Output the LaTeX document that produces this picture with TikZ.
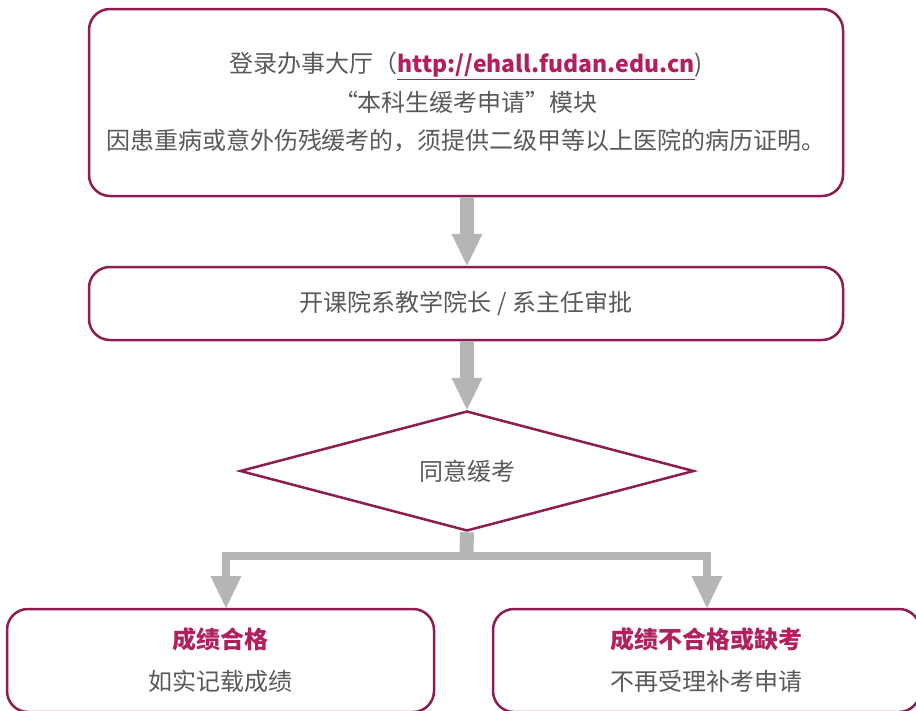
\documentclass[tikz,border=0pt]{standalone}
\usepackage{fontspec}
\setmainfont{Noto Sans CJK SC}
\usetikzlibrary{shapes.geometric,arrows.meta}
\definecolor{bordc}{HTML}{8C1D50}
\definecolor{hl}{HTML}{B1205E}
\definecolor{txtc}{HTML}{595959}
\definecolor{arrc}{HTML}{B4B6B5}
\tikzset{
  flowbox/.style={draw=bordc, line width=2.5pt, rounded corners=21pt, inner sep=0pt,
    align=center, text=txtc},
  decision/.style={diamond, draw=bordc, line width=2.5pt, inner sep=0pt,
    minimum width=454pt, minimum height=120pt, text=txtc,
    font=\fontsize{24}{30}\selectfont},
  headtip/.style={-{Triangle[width=31pt,length=32pt,line width=0pt]}},
  mainarrow/.style={draw=arrc, line width=13.5pt, headtip},
  stem/.style={draw=arrc, line width=14pt},
  branch/.style={draw=arrc, line width=8pt, line join=miter, headtip},
}
\begin{document}
\begin{tikzpicture}[x=1pt,y=-1pt]
\useasboundingbox (0,0) rectangle (916,710);
\node[flowbox, minimum width=754pt, minimum height=187pt,
  font=\fontsize{24}{38.5}\selectfont] (apply) at (466,102.5)
  {登录办事大厅（\textcolor{hl}{\underline{\fontsize{23}{38.5}\selectfont\textbf{http://ehall.fudan.edu.cn}}})\\
   “本科生缓考申请”模块\\
   因患重病或意外伤残缓考的，须提供二级甲等以上医院的病历证明。};
\node[flowbox, minimum width=754pt, minimum height=73pt,
  font=\fontsize{24}{30}\selectfont] (approve) at (466,303.5)
  {开课院系教学院长 / 系主任审批};
\node[decision] (agree) at (467,471) {同意缓考};
\node[flowbox, minimum width=427pt, minimum height=103pt,
  font=\fontsize{24}{42}\selectfont] (pass) at (220.5,660.5)
  {\textbf{\textcolor{hl}{成绩合格}}\\如实记载成绩};
\node[flowbox, minimum width=427pt, minimum height=103pt,
  font=\fontsize{24}{42}\selectfont] (fail) at (706.5,660.5)
  {\textbf{\textcolor{hl}{成绩不合格或缺考}}\\不再受理补考申请};
\coordinate (junc) at (466.5,556);
\coordinate (passin) at (226,608);
\coordinate (failin) at (707,608);
\draw[mainarrow] (apply.south -| agree.north) -- (approve.north -| agree.north);
\draw[mainarrow] (approve.south -| agree.north) -- (agree.north);
\draw[stem] (agree.south) -- ([yshift=4pt]junc);
\draw[branch] (junc) -| (passin);
\draw[branch] (junc) -| (failin);
\end{tikzpicture}
\end{document}
